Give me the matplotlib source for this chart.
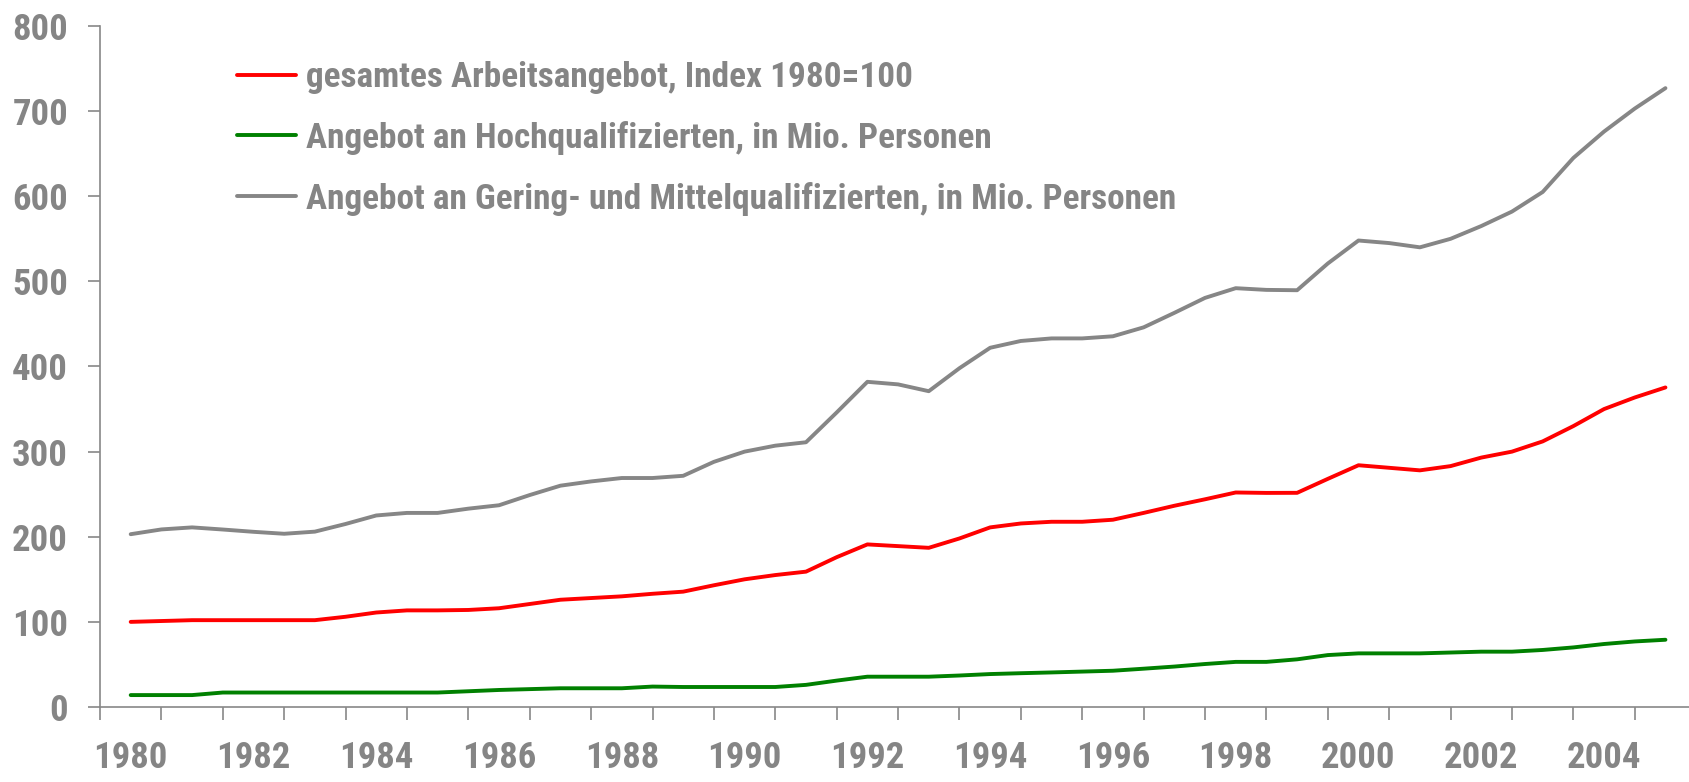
import numpy as np
import matplotlib
matplotlib.use("Agg")
import matplotlib.pyplot as plt
from matplotlib import font_manager

# half-year points, 1980 .. 2005
years = np.arange(1980.0, 2005.01, 0.5)

gesamt = [100, 101, 102, 102, 102, 102, 102, 106, 111, 113.5,
          113.5, 114, 116, 121, 126, 128, 130, 133, 135.5, 143,
          150, 155, 159, 176, 191, 189, 187, 198, 211, 215.6,
          217.6, 217.6, 220, 228, 236.4, 244, 252, 251.5, 251.6, 268,
          284, 281, 278, 283, 293, 300, 312, 330, 350, 363.6,
          375.4]

hoch = [14, 14, 14, 17, 17, 17, 17, 17, 17, 17,
        17, 18.5, 20, 21, 22, 22, 22, 24, 23.5, 23.5,
        23.5, 23.5, 26, 31, 35.6, 35.6, 35.6, 37, 38.7, 39.7,
        40.6, 41.6, 42.6, 45, 47.5, 50.5, 53, 53, 56, 61,
        63, 63, 63, 64, 65, 65, 67, 70, 74, 77,
        79]

gering = [203, 208.6, 211, 208.5, 205.8, 203.5, 206, 215, 225, 228,
          228, 233, 237, 249, 260, 265, 269, 269, 271.6, 288,
          300, 307, 311, 346, 382, 379, 371, 398, 422, 430,
          433, 433, 435.5, 446, 463, 480.6, 492, 490, 489.6, 521,
          548, 545, 540, 550, 565, 582, 605, 645, 676, 703,
          727]

labels = ["gesamtes Arbeitsangebot, Index 1980=100",
          "Angebot an Hochqualifizierten, in Mio. Personen",
          "Angebot an Gering- und Mittelqualifizierten, in Mio. Personen"]
colors = ["#ff0000", "#008000", "#868686"]

year_labels = list(range(1980, 2005, 2))


# look for a narrow bold face (Arial Narrow look), else plain Liberation Sans
def pick_font():
    narrow = []
    for f in font_manager.fontManager.ttflist:
        nm = f.name.lower()
        st = str(f.stretch).lower()
        is_narrow = ("narrow" in nm or "condensed" in nm or "condensed" in st
                     or (isinstance(f.stretch, int) and f.stretch < 500))
        w = f.weight if isinstance(f.weight, int) else (700 if "bold" in str(f.weight) else 400)
        if is_narrow and w >= 600 and "mono" not in nm and "serif" not in nm.replace("sans", ""):
            narrow.append(f)
    order = ["liberation sans narrow", "arial narrow", "roboto condensed",
             "open sans condensed", "noto sans", "dejavu sans"]
    for o in order:
        for f in narrow:
            if f.name.lower().startswith(o):
                return font_manager.FontProperties(fname=f.fname), True
    if narrow:
        return font_manager.FontProperties(fname=narrow[0].fname), True
    return font_manager.FontProperties(family="Liberation Sans", weight="bold"), False


fp, is_narrow = pick_font()
tick_size = 26.5 if is_narrow else 23
leg_size = 25.4 if is_narrow else 21

grey = "#888888"
txt = "#858585"

fig = plt.figure(figsize=(16.9, 7.82), dpi=100)
ax = fig.add_axes([100 / 1690, 1 - 707 / 782, 1 - 100 / 1690, (707 - 26) / 782])

for vals, c, lab in zip([gesamt, hoch, gering], colors, labels):
    ax.plot(years, vals, color=c, lw=2.8, label=lab,
            solid_capstyle="round", solid_joinstyle="round")

ax.set_ylim(0, 800)
ax.set_xlim(1979.5, 2005.4)
ax.set_yticks(range(0, 801, 100))

# year boundaries as tick marks, labels in the middle of even years
ax.set_xticks(np.arange(1979.5, 2005.0, 1.0))
ax.set_xticklabels([])
ax.set_xticks(year_labels, minor=True)
ax.set_xticklabels([str(y) for y in year_labels], minor=True)
ax.tick_params(axis="x", which="major", direction="out", length=9, width=1.2, color=grey)
ax.tick_params(axis="x", which="minor", length=0, pad=24)
ax.tick_params(axis="y", direction="out", length=9, width=1.2, color=grey, pad=14)

for lab in ax.get_xticklabels(minor=True) + ax.get_yticklabels():
    lab.set_fontproperties(fp)
    lab.set_fontsize(tick_size)
    lab.set_fontweight("bold")
    lab.set_color(txt)

for s in ["top", "right"]:
    ax.spines[s].set_visible(False)
for s in ["left", "bottom"]:
    ax.spines[s].set_color(grey)
    ax.spines[s].set_linewidth(1.2)

lp = fp.copy()
lp.set_size(leg_size)
lp.set_weight("bold")
leg = ax.legend(loc="upper left", bbox_to_anchor=(237 / 1690, 1 - 61 / 782),
                bbox_transform=fig.transFigure, frameon=False,
                prop=lp, labelcolor=txt,
                handlelength=1.67, handletextpad=0.3, labelspacing=0.76,
                borderpad=0, borderaxespad=0)
for h in leg.get_lines():
    h.set_linewidth(2.8)

fig.savefig("out.png", dpi=100)
